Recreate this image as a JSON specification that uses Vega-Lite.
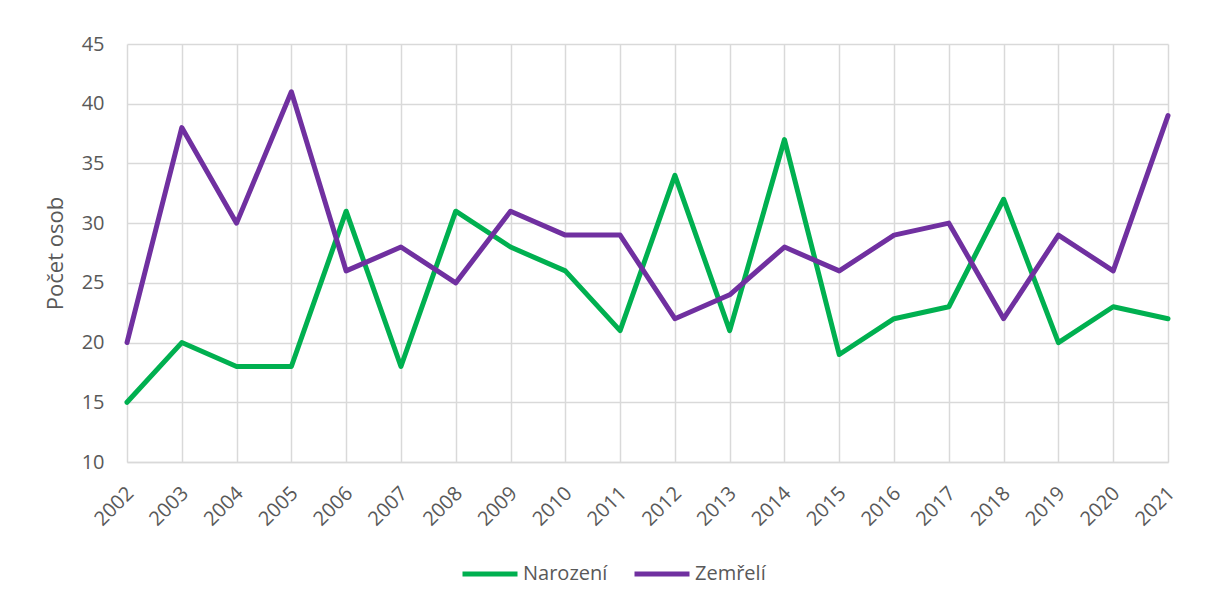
{
  "$schema": "https://vega.github.io/schema/vega-lite/v6.json",
  "width": 1041,
  "height": 418,
  "autosize": {"type": "none"},
  "padding": {"left": 127, "top": 44, "right": 40, "bottom": 141},
  "background": "white",
  "config": {
    "font": "Open Sans",
    "view": {"stroke": null}
  },
  "data": {
    "values": [
      {"rok": "2002", "serie": "Narození", "pocet": 15},
      {"rok": "2003", "serie": "Narození", "pocet": 20},
      {"rok": "2004", "serie": "Narození", "pocet": 18},
      {"rok": "2005", "serie": "Narození", "pocet": 18},
      {"rok": "2006", "serie": "Narození", "pocet": 31},
      {"rok": "2007", "serie": "Narození", "pocet": 18},
      {"rok": "2008", "serie": "Narození", "pocet": 31},
      {"rok": "2009", "serie": "Narození", "pocet": 28},
      {"rok": "2010", "serie": "Narození", "pocet": 26},
      {"rok": "2011", "serie": "Narození", "pocet": 21},
      {"rok": "2012", "serie": "Narození", "pocet": 34},
      {"rok": "2013", "serie": "Narození", "pocet": 21},
      {"rok": "2014", "serie": "Narození", "pocet": 37},
      {"rok": "2015", "serie": "Narození", "pocet": 19},
      {"rok": "2016", "serie": "Narození", "pocet": 22},
      {"rok": "2017", "serie": "Narození", "pocet": 23},
      {"rok": "2018", "serie": "Narození", "pocet": 32},
      {"rok": "2019", "serie": "Narození", "pocet": 20},
      {"rok": "2020", "serie": "Narození", "pocet": 23},
      {"rok": "2021", "serie": "Narození", "pocet": 22},
      {"rok": "2002", "serie": "Zemřelí", "pocet": 20},
      {"rok": "2003", "serie": "Zemřelí", "pocet": 38},
      {"rok": "2004", "serie": "Zemřelí", "pocet": 30},
      {"rok": "2005", "serie": "Zemřelí", "pocet": 41},
      {"rok": "2006", "serie": "Zemřelí", "pocet": 26},
      {"rok": "2007", "serie": "Zemřelí", "pocet": 28},
      {"rok": "2008", "serie": "Zemřelí", "pocet": 25},
      {"rok": "2009", "serie": "Zemřelí", "pocet": 31},
      {"rok": "2010", "serie": "Zemřelí", "pocet": 29},
      {"rok": "2011", "serie": "Zemřelí", "pocet": 29},
      {"rok": "2012", "serie": "Zemřelí", "pocet": 22},
      {"rok": "2013", "serie": "Zemřelí", "pocet": 24},
      {"rok": "2014", "serie": "Zemřelí", "pocet": 28},
      {"rok": "2015", "serie": "Zemřelí", "pocet": 26},
      {"rok": "2016", "serie": "Zemřelí", "pocet": 29},
      {"rok": "2017", "serie": "Zemřelí", "pocet": 30},
      {"rok": "2018", "serie": "Zemřelí", "pocet": 22},
      {"rok": "2019", "serie": "Zemřelí", "pocet": 29},
      {"rok": "2020", "serie": "Zemřelí", "pocet": 26},
      {"rok": "2021", "serie": "Zemřelí", "pocet": 39}
    ]
  },
  "mark": {"type": "line", "strokeWidth": 5, "strokeCap": "round", "strokeJoin": "round"},
  "encoding": {
    "x": {
      "field": "rok",
      "type": "ordinal",
      "scale": {"type": "point", "padding": 0},
      "axis": {
        "title": null,
        "grid": true,
        "gridColor": "#D9D9D9",
        "gridWidth": 1.5,
        "domainColor": "#D9D9D9",
        "domainWidth": 1.5,
        "ticks": false,
        "labelAngle": -45,
        "labelAlign": "right",
        "labelBaseline": "middle",
        "labelPadding": 28,
        "labelFontSize": 20,
        "labelColor": "#595959",
        "labelOffset": 3
      }
    },
    "y": {
      "field": "pocet",
      "type": "quantitative",
      "scale": {"domain": [10, 45], "nice": false, "zero": false},
      "axis": {
        "title": "Počet osob",
        "titleFontSize": 22,
        "titleFontWeight": "normal",
        "titleColor": "#595959",
        "titlePadding": 14,
        "values": [10, 15, 20, 25, 30, 35, 40, 45],
        "grid": true,
        "gridColor": "#D9D9D9",
        "gridWidth": 1.5,
        "domain": false,
        "ticks": false,
        "labelFontSize": 20,
        "labelColor": "#595959",
        "labelPadding": 23
      }
    },
    "color": {
      "field": "serie",
      "type": "nominal",
      "scale": {"domain": ["Narození", "Zemřelí"], "range": ["#00B050", "#7030A0"]},
      "legend": {
        "title": null,
        "orient": "none",
        "direction": "horizontal",
        "legendX": 333,
        "legendY": 500,
        "symbolType": "stroke",
        "symbolStrokeWidth": 5,
        "symbolSize": 3025,
        "labelFontSize": 20,
        "labelColor": "#595959",
        "labelOffset": 3,
        "columnPadding": 16
      }
    }
  }
}
